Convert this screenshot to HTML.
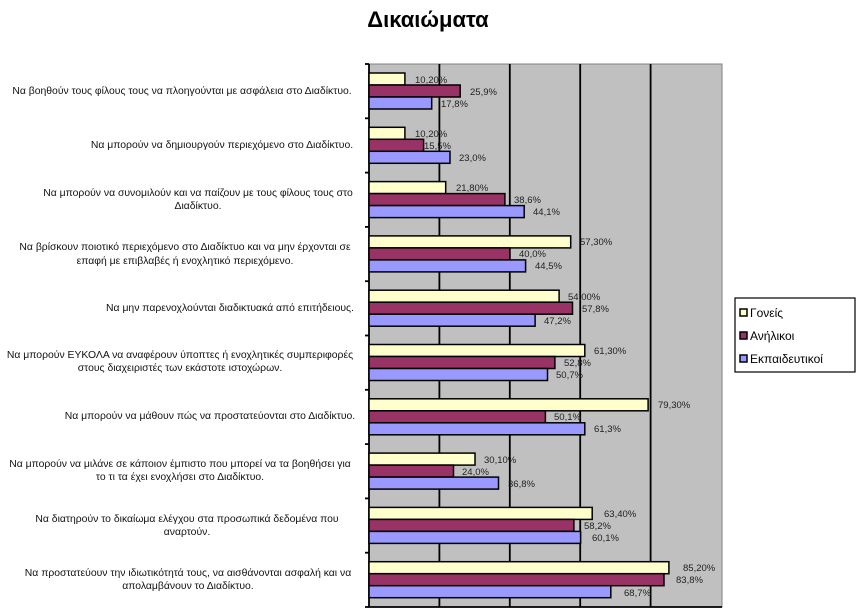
<!DOCTYPE html>
<html><head><meta charset="utf-8"><style>
html,body{margin:0;padding:0;background:#fff;}
svg{display:block;font-family:"Liberation Sans",Arial,sans-serif;}
.l{font-size:10.4px;fill:#111;text-anchor:middle;white-space:pre;}
.v{font-size:9.5px;fill:#222;}
.y{fill:#FFFFCC;stroke:#000;stroke-width:1.5}
.r{fill:#993366;stroke:#000;stroke-width:1.5}
.b{fill:#9999FF;stroke:#000;stroke-width:1.5}
</style></head><body>
<svg width="857" height="613" viewBox="0 0 857 613">
<text x="428" y="27" font-size="22" font-weight="bold" text-anchor="middle" fill="#000">Δικαιώματα</text>
<rect x="369" y="64" width="353" height="543" fill="#C0C0C0" stroke="#808080" stroke-width="1"/>
<g stroke="#000" stroke-width="1.8">
<line x1="439.4" y1="64" x2="439.4" y2="607"/>
<line x1="509.8" y1="64" x2="509.8" y2="607"/>
<line x1="580.2" y1="64" x2="580.2" y2="607"/>
<line x1="650.6" y1="64" x2="650.6" y2="607"/>
<line x1="369" y1="64" x2="369" y2="607"/>
<line x1="369" y1="607" x2="722" y2="607"/>
<line x1="365" y1="64" x2="369" y2="64"/><line x1="365" y1="118.3" x2="369" y2="118.3"/><line x1="365" y1="172.6" x2="369" y2="172.6"/><line x1="365" y1="226.9" x2="369" y2="226.9"/><line x1="365" y1="281.2" x2="369" y2="281.2"/><line x1="365" y1="335.5" x2="369" y2="335.5"/><line x1="365" y1="389.8" x2="369" y2="389.8"/><line x1="365" y1="444.1" x2="369" y2="444.1"/><line x1="365" y1="498.4" x2="369" y2="498.4"/><line x1="365" y1="552.7" x2="369" y2="552.7"/><line x1="365" y1="607" x2="369" y2="607"/>
</g>
<rect class="y" x="369" y="73" width="35.9" height="12"/><rect class="r" x="369" y="85" width="91.2" height="12"/><rect class="b" x="369" y="97" width="62.7" height="12"/>
<rect class="y" x="369" y="127.3" width="35.9" height="12"/><rect class="r" x="369" y="139.3" width="54.6" height="12"/><rect class="b" x="369" y="151.3" width="81" height="12"/>
<rect class="y" x="369" y="181.6" width="76.7" height="12"/><rect class="r" x="369" y="193.6" width="135.9" height="12"/><rect class="b" x="369" y="205.6" width="155.2" height="12"/>
<rect class="y" x="369" y="235.9" width="201.7" height="12"/><rect class="r" x="369" y="247.9" width="140.8" height="12"/><rect class="b" x="369" y="259.9" width="156.6" height="12"/>
<rect class="y" x="369" y="290.2" width="190.1" height="12"/><rect class="r" x="369" y="302.2" width="203.5" height="12"/><rect class="b" x="369" y="314.2" width="166.1" height="12"/>
<rect class="y" x="369" y="344.5" width="215.8" height="12"/><rect class="r" x="369" y="356.5" width="185.9" height="12"/><rect class="b" x="369" y="368.5" width="178.5" height="12"/>
<rect class="y" x="369" y="398.8" width="279.1" height="12"/><rect class="r" x="369" y="410.8" width="176.4" height="12"/><rect class="b" x="369" y="422.8" width="215.8" height="12"/>
<rect class="y" x="369" y="453.1" width="106" height="12"/><rect class="r" x="369" y="465.1" width="84.5" height="12"/><rect class="b" x="369" y="477.1" width="129.5" height="12"/>
<rect class="y" x="369" y="507.4" width="223.2" height="12"/><rect class="r" x="369" y="519.4" width="204.9" height="12"/><rect class="b" x="369" y="531.4" width="211.6" height="12"/>
<rect class="y" x="369" y="561.7" width="299.9" height="12"/><rect class="r" x="369" y="573.7" width="295" height="12"/><rect class="b" x="369" y="585.7" width="241.8" height="12"/>
<g class="v">
<text x="415" y="83">10,20%</text><text x="470" y="95">25,9%</text><text x="441" y="107">17,8%</text>
<text x="415" y="137">10,20%</text><text x="424" y="149">15,5%</text><text x="459" y="161">23,0%</text>
<text x="456" y="191">21,80%</text><text x="514" y="203">38,6%</text><text x="533" y="215">44,1%</text>
<text x="580" y="245">57,30%</text><text x="519" y="257">40,0%</text><text x="535" y="269">44,5%</text>
<text x="568" y="300">54,00%</text><text x="582" y="312">57,8%</text><text x="544" y="324">47,2%</text>
<text x="594" y="354">61,30%</text><text x="564" y="366">52,8%</text><text x="556" y="378">50,7%</text>
<text x="658" y="408">79,30%</text><text x="554" y="420">50,1%</text><text x="594" y="432">61,3%</text>
<text x="484" y="463">30,10%</text><text x="462" y="475">24,0%</text><text x="508" y="487">36,8%</text>
<text x="604" y="517">63,40%</text><text x="584" y="529">58,2%</text><text x="592" y="541">60,1%</text>
<text x="683" y="571">85,20%</text><text x="676" y="583">83,8%</text><text x="624" y="596">68,7%</text>
</g>
<g class="l" xml:space="preserve">
<text x="182" y="94">Να βοηθούν  τους φίλους τους να πλοηγούνται  με ασφάλεια στο Διαδίκτυο.</text>
<text x="222" y="148">Να μπορούν να δημιουργούν  περιεχόμενο στο Διαδίκτυο.</text>
<text x="198" y="196">Να μπορούν να συνομιλούν  και να παίζουν με τους φίλους τους  στο</text>
<text x="198" y="209">Διαδίκτυο.</text>
<text x="185" y="250">Να βρίσκουν ποιοτικό περιεχόμενο στο Διαδίκτυο και να μην  έρχονται σε</text>
<text x="185" y="264">επαφή με επιβλαβές ή ενοχλητικό περιεχόμενο.</text>
<text x="230" y="311">Να μην  παρενοχλούνται  διαδικτυακά από επιτήδειους.</text>
<text x="180" y="358">Να μπορούν ΕΥΚΟΛΑ  να αναφέρουν  ύποπτες ή ενοχλητικές συμπεριφορές</text>
<text x="180" y="371">στους  διαχειριστές των εκάστοτε ιστοχώρων.</text>
<text x="210" y="419">Να μπορούν να μάθουν  πώς να προστατεύονται στο Διαδίκτυο.</text>
<text x="180" y="467">Να μπορούν να μιλάνε σε κάποιον έμπιστο που μπορεί να τα βοηθήσει για</text>
<text x="180" y="480">το τι τα έχει ενοχλήσει στο Διαδίκτυο.</text>
<text x="187" y="522">Να διατηρούν  το δικαίωμα ελέγχου στα προσωπικά δεδομένα που</text>
<text x="187" y="535">αναρτούν.</text>
<text x="188" y="576">Να προστατεύουν  την ιδιωτικότητά τους, να αισθάνονται ασφαλή και να</text>
<text x="188" y="589">απολαμβάνουν  το Διαδίκτυο.</text>
</g>
<rect x="735" y="298" width="120" height="74" fill="#fff" stroke="#000" stroke-width="1.2"/>
<rect x="740" y="309" width="7" height="7" class="y" stroke-width="1"/>
<text x="750" y="317" font-size="12" fill="#000">Γονείς</text>
<rect x="740" y="332" width="7" height="7" class="r" stroke-width="1"/>
<text x="750" y="340" font-size="12" fill="#000">Ανήλικοι</text>
<rect x="740" y="355" width="7" height="7" class="b" stroke-width="1"/>
<text x="750" y="363" font-size="12" fill="#000">Εκπαιδευτικοί</text>
</svg>
</body></html>
